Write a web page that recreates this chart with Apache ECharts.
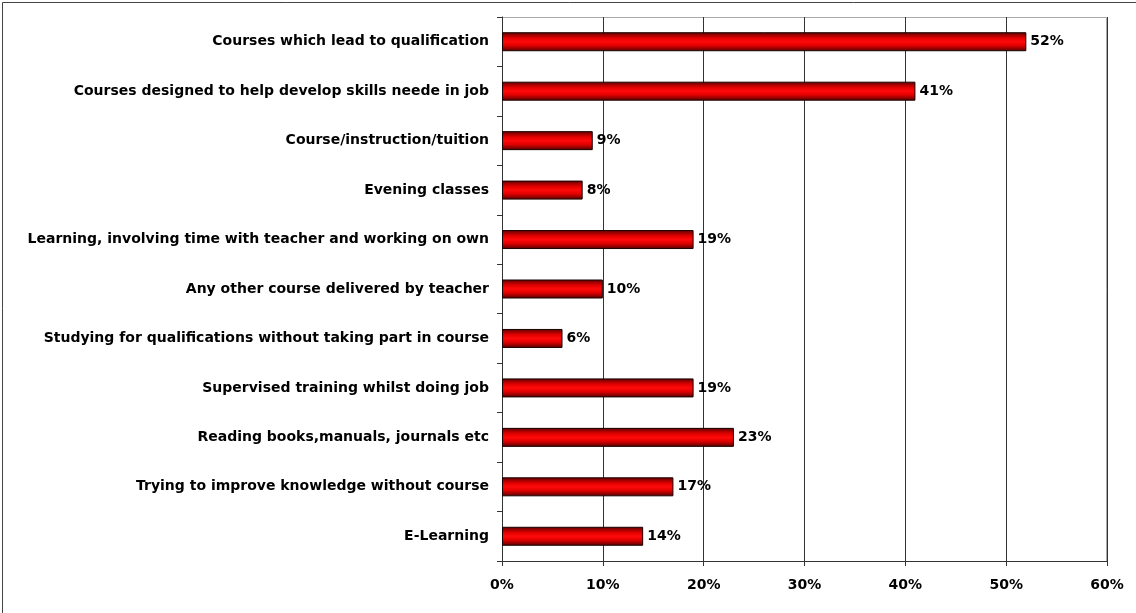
<!DOCTYPE html>
<html>
<head>
<meta charset="utf-8">
<script src="https://cdn.jsdelivr.net/npm/echarts@6/dist/echarts.min.js"></script>
<style>
  html, body { margin: 0; padding: 0; background: #fff; }
  #chart { width: 1136px; height: 613px; }
</style>
</head>
<body>
<div id="chart"></div>
<script>
// categories listed top to bottom, as in the picture
const categories = [
  'Courses which lead to qualification',
  'Courses designed to help develop skills neede in job',
  'Course/instruction/tuition',
  'Evening classes',
  'Learning, involving time with teacher and working on own',
  'Any other course delivered by teacher',
  'Studying for qualifications without taking part in course',
  'Supervised training whilst doing job',
  'Reading books,manuals, journals etc',
  'Trying to improve knowledge without course',
  'E-Learning'
]
const shares = [52, 41, 9, 8, 19, 10, 6, 19, 23, 17, 14]
const xTicks = [0, 10, 20, 30, 40, 50, 60]

const font = { fontFamily: 'DejaVu Sans, Verdana, sans-serif', fontWeight: 'bold', fontSize: 14, color: '#000' }

const chart = echarts.init(document.getElementById('chart'))

chart.setOption({
  animation: false,
  backgroundColor: '#fff',
  graphic: [{
    type: 'rect',
    shape: { x: 2.5, y: 2.5, width: 1140, height: 620 },
    style: { fill: 'none', stroke: '#444', lineWidth: 1 },
    silent: true
  }, {
    // top and right edge of the plot area
    type: 'polyline',
    shape: { points: [[502, 17.5], [1106.5, 17.5], [1106.5, 561]] },
    style: { fill: 'none', stroke: '#aaa', lineWidth: 1 },
    silent: true
  }],
  grid: { left: 502, right: 29, top: 17, bottom: 52 },
  xAxis: {
    type: 'value',
    min: xTicks[0],
    max: xTicks[xTicks.length - 1],
    interval: 10,
    axisLine: { show: true, lineStyle: { color: '#333', width: 1 } },
    axisTick: { show: true, length: 5, lineStyle: { color: '#333' } },
    axisLabel: { ...font, margin: 17, formatter: v => v + '%' },
    splitLine: { show: true, lineStyle: { color: '#333', width: 1 } }
  },
  yAxis: {
    type: 'category',
    inverse: true,
    data: categories,
    axisLine: { show: true, lineStyle: { color: '#333', width: 1 } },
    axisTick: { show: true, length: 5, lineStyle: { color: '#333' } },
    axisLabel: { ...font, margin: 13 }
  },
  series: [{
    type: 'bar',
    data: shares,
    barWidth: 19,
    itemStyle: {
      borderColor: '#1a0000',
      borderWidth: 1,
      color: new echarts.graphic.LinearGradient(0, 0, 0, 1, [
        { offset: 0, color: '#5a0000' },
        { offset: 0.3, color: '#e00000' },
        { offset: 0.5, color: '#ff0a0a' },
        { offset: 0.7, color: '#e00000' },
        { offset: 1, color: '#500000' }
      ])
    },
    label: {
      show: true,
      position: 'right',
      distance: 4,
      ...font,
      formatter: p => p.value + '%'
    }
  }]
})
</script>
</body>
</html>
